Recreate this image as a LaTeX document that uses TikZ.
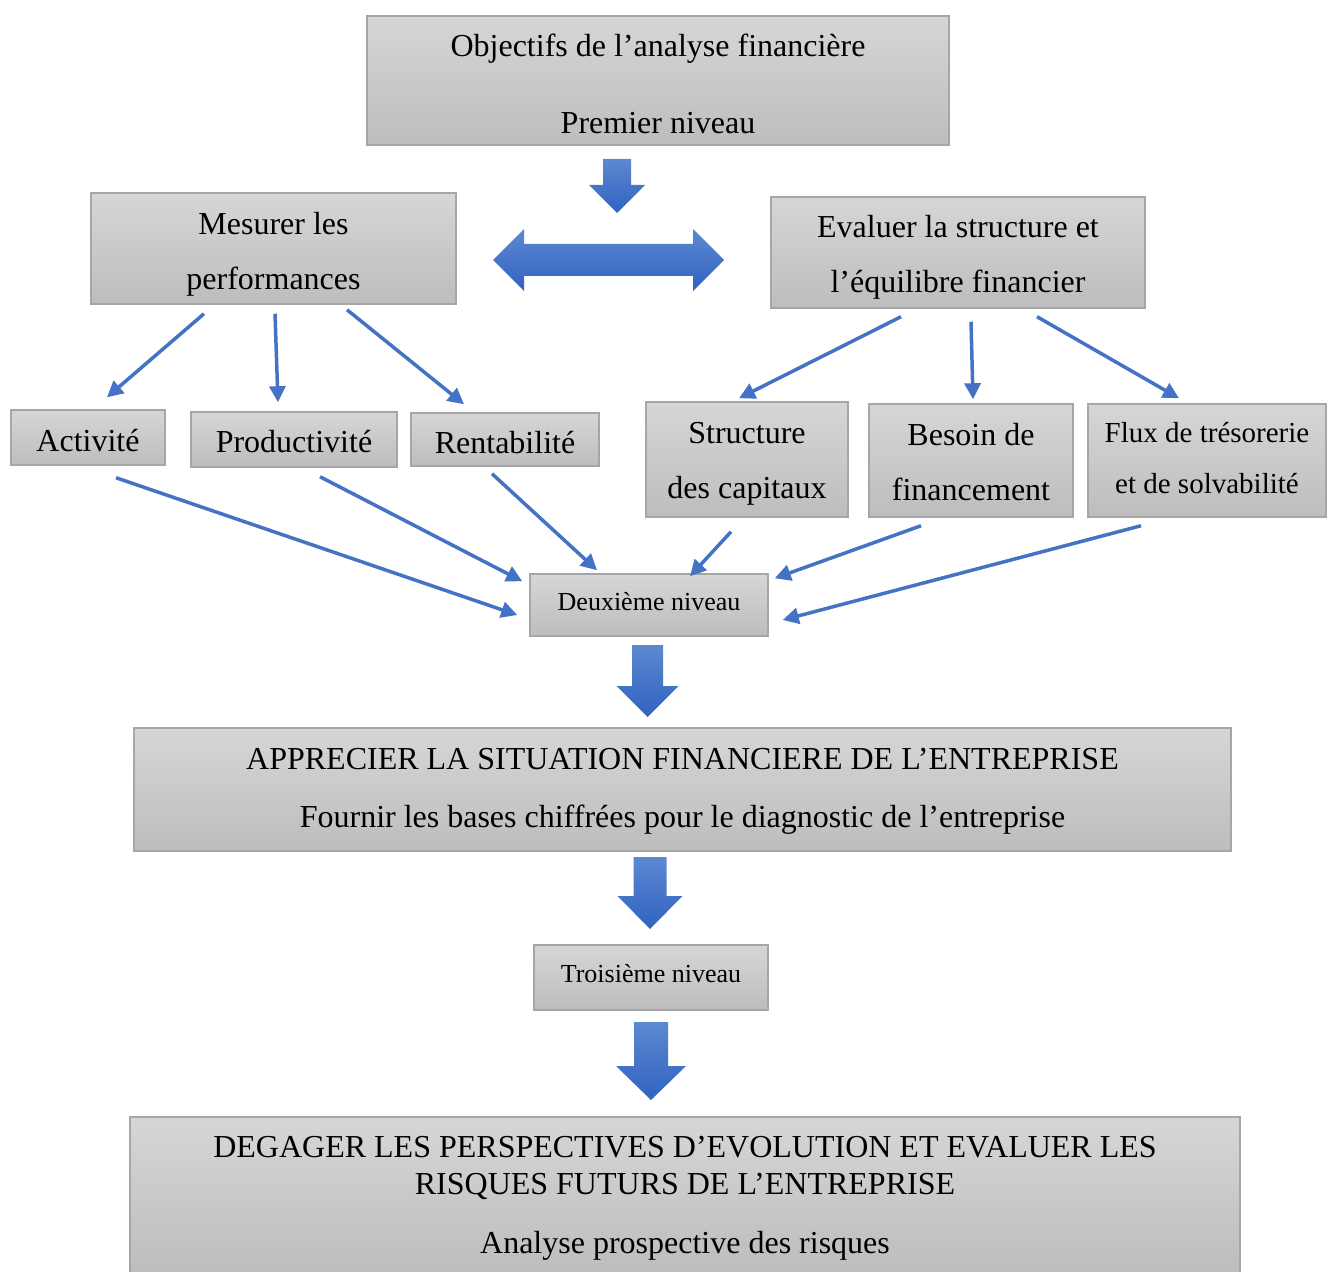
\documentclass[tikz,border=0pt]{standalone}
\usepackage{fontspec}
\setmainfont{Liberation Serif}
\usetikzlibrary{arrows.meta,calc}
\definecolor{boxtop}{HTML}{D6D6D6}
\definecolor{boxbot}{HTML}{BDBDBD}
\definecolor{boxline}{HTML}{A6A6A6}
\definecolor{arrblue}{HTML}{4472C4}
\definecolor{blktop}{HTML}{5D89D2}
\definecolor{blkbot}{HTML}{3062C0}
\newcommand\blkdown[6]{%
  \path[blk] ({#1-#2},#4) -- ({#1+#2},#4) -- ({#1+#2},#5) -- ({#1+#3},#5) -- (#1,#6)
    -- ({#1-#3},#5) -- ({#1-#2},#5) -- cycle;}
\newcommand\dn[2]{\raisebox{#1}[\height][\depth]{#2}}
\begin{document}
\begin{tikzpicture}[x=0.5pt,y=-0.5pt,
  box/.style={draw=boxline, line width=0.75pt, top color=boxtop, bottom color=boxbot,
    align=center, inner sep=0pt, rectangle},
  link/.style={draw=arrblue, line width=1.75pt, -{Triangle[length=8pt,width=8pt]}},
  blk/.style={top color=blktop, bottom color=blkbot, draw=none}]
\useasboundingbox (0,0) rectangle (1327,1272);

% boxes
\node[box, minimum width=291pt, minimum height=64.5pt, font=\fontsize{16}{38.5}\selectfont]
  (top) at (658,80.5) {\dn{-1.5pt}{Objectifs de l’analyse financière}\\\dn{-1.5pt}{Premier niveau}};
\node[box, minimum width=182.5pt, minimum height=55.5pt, font=\fontsize{16}{27.5}\selectfont]
  (mes) at (273.5,248.5) {\dn{-3pt}{Mesurer les}\\\dn{-3pt}{performances}};
\node[box, minimum width=187pt, minimum height=55.5pt, font=\fontsize{16}{27.5}\selectfont]
  (eva) at (958,252.5) {\dn{-2.5pt}{Evaluer la structure et}\\\dn{-2.5pt}{l’équilibre financier}};
\node[box, minimum width=77pt, minimum height=27.5pt, font=\fontsize{16}{19}\selectfont]
  (act) at (88,437.5) {\dn{-1.5pt}{Activité}};
\node[box, minimum width=103pt, minimum height=27.5pt, font=\fontsize{16}{19}\selectfont]
  (prod) at (294,439.5) {\dn{-1pt}{Productivité}};
\node[box, minimum width=94pt, minimum height=26.5pt, font=\fontsize{16}{19}\selectfont]
  (rent) at (505,439.5) {\dn{-1.5pt}{Rentabilité}};
\node[box, minimum width=101pt, minimum height=57.5pt, font=\fontsize{16}{27.5}\selectfont]
  (str) at (747,459.5) {\dn{-2pt}{Structure}\\\dn{-2pt}{des capitaux}};
\node[box, minimum width=102pt, minimum height=56.5pt, font=\fontsize{16}{27.5}\selectfont]
  (bes) at (971,460.5) {\dn{-1pt}{Besoin de}\\\dn{-1pt}{financement}};
\node[box, minimum width=119pt, minimum height=56.5pt, font=\fontsize{14.5}{25.5}\selectfont]
  (flux) at (1207,460.5) {\dn{1pt}{Flux de trésorerie}\\\dn{1pt}{et de solvabilité}};
\node[box, minimum width=119pt, minimum height=31pt, font=\fontsize{13}{16}\selectfont]
  (deux) at (649,605) {\dn{1.5pt}{Deuxième niveau}};
\node[box, minimum width=548.5pt, minimum height=61.5pt, font=\fontsize{16}{29}\selectfont]
  (app) at (682.5,789.5) {\dn{-1pt}{APPRECIER LA SITUATION FINANCIERE DE L’ENTREPRISE}\\\dn{-1pt}{Fournir les bases chiffrées pour le diagnostic de l’entreprise}};
\node[box, minimum width=117pt, minimum height=32.5pt, font=\fontsize{13}{16}\selectfont]
  (trois) at (651,977.5) {\dn{2pt}{Troisième niveau}};
\node[box, minimum width=555pt, minimum height=78pt, font=\fontsize{16}{18.5}\selectfont]
  (deg) at (685,1195) {\dn{-1.5pt}{DEGAGER LES PERSPECTIVES D’EVOLUTION ET EVALUER LES}\\\dn{-1.5pt}{RISQUES FUTURS DE L’ENTREPRISE}\\[11pt]\dn{-1.5pt}{Analyse prospective des risques}};

% block arrows
\blkdown{617}{14}{28}{159}{185}{213}
\path[blk] (493,260) -- (524,229) -- (524,244) -- (693,244) -- (693,229) -- (724,260)
  -- (693,291) -- (693,276) -- (524,276) -- (524,291) -- cycle;
\blkdown{647.5}{15.5}{31}{645}{686}{717}
\blkdown{650}{16.5}{32.5}{857}{896}{929}
\blkdown{651}{17}{35}{1022}{1066}{1100}

% thin arrows, first level
\draw[link] ($(mes.south)+(-69.5,9)$) -- ($(act.north)+(19,-12)$);
\draw[link] ($(mes.south)+(1.5,9)$) -- ($(prod.north)+(-16,-9)$);
\draw[link] ($(mes.south)+(73.5,5)$) -- ($(rent.north)+(-41,-8)$);
\draw[link] ($(eva.south)+(-57,8)$) -- ($(str.north)+(-8,-3)$);
\draw[link] ($(eva.south)+(13,13)$) -- ($(bes.north)+(2,-4)$);
\draw[link] ($(eva.south)+(79,8)$) -- ($(flux.north)+(-28,-5)$);

% thin arrows to Deuxieme niveau
\draw[link] ($(act.south)+(28,12)$) -- ($(deux.west)+(-12,10)$);
\draw[link] ($(prod.south)+(26,9)$) -- ($(deux.north west)+(-7,8)$);
\draw[link] ($(rent.south)+(-13,7)$) -- ($(deux.north)+(-52,-3)$);
\draw[link] ($(str.south)+(-16,14)$) -- ($(deux.north)+(41,3)$);
\draw[link] ($(bes.south)+(-50,8)$) -- ($(deux.north east)+(6,5)$);
\draw[link] ($(flux.south)+(-66,8)$) -- ($(deux.east)+(14,15)$);
\end{tikzpicture}
\end{document}
